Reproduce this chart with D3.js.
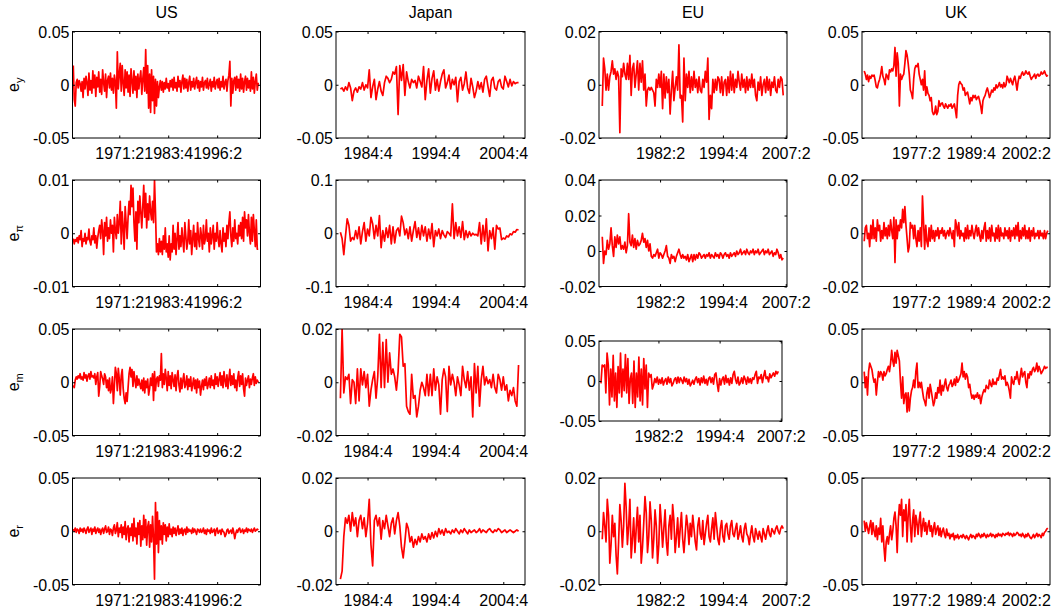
<!DOCTYPE html>
<html><head><meta charset="utf-8">
<script src="https://cdn.jsdelivr.net/npm/d3@7"></script>
<style>body{margin:0;background:#fff}svg text{font-family:"Liberation Sans",Arial,Helvetica,sans-serif;fill:#000}</style>
</head><body><svg id="c" width="1058" height="612"></svg>
<script>
// ---------- categories / ticks ----------
const countries = ["US","Japan","EU","UK"];
const shockNames = ["y","π","m","r"];
const xTickIndex = {US:[50,100,150], Japan:[20,60,100], EU:[50,100,150], UK:[50,100,150]};
const xTickLabels = {
  US:["1971:2","1983:4","1996:2"],
  Japan:["1984:4","1994:4","2004:4"],
  EU:["1982:2","1994:4","2007:2"],
  UK:["1977:2","1989:4","2002:2"]
};
const xDomains = {US:[2.2,194.3], Japan:[1.4,112.8], EU:[1.4,151], UK:[1,172]};
const yTicks = {
  US:[[-0.05,0,0.05],[-0.01,0,0.01],[-0.05,0,0.05],[-0.05,0,0.05]],
  Japan:[[-0.05,0,0.05],[-0.1,0,0.1],[-0.02,0,0.02],[-0.02,0,0.02]],
  EU:[[-0.02,0,0.02],[-0.02,0,0.02,0.04],[-0.05,0,0.05],[-0.02,0,0.02]],
  UK:[[-0.05,0,0.05],[-0.02,0,0.02],[-0.05,0,0.05],[-0.05,0,0.05]]
};
// ---------- series values (integers, multiplied by the unit given below) ----------
const US_ey = [18,-14,-20,2,5,-3,4,1,-6,3,-12,6,-4,8,2,-10,11,-5,4,-8,13,-3,9,-11,7,-2,12,-7,5,-9,14,2,-6,10,-12,4,8,-3,11,-5,6,-8,9,3,-22,31,-4,10,20,-6,18,2,-10,14,-3,12,-7,9,-11,15,4,-8,13,-5,8,-12,10,-4,6,13,-9,5,16,-6,33,-8,18,-22,10,-26,14,-15,8,-27,5,-20,3,-12,-2,4,-5,3,-7,2,-4,6,-3,1,-6,4,-2,5,-5,7,-3,2,-6,8,-2,4,-7,3,9,-4,6,-3,5,-6,2,8,-5,3,-2,6,-4,2,7,-3,4,-6,3,-2,7,-5,2,4,-3,6,-4,1,5,-6,3,-2,7,-4,2,5,-3,6,-5,3,-2,8,-4,2,5,-6,4,9,22,-20,6,-8,4,7,-5,8,-3,5,-6,10,-4,6,-7,3,8,-5,6,-3,4,-6,12,-4,7,-8,3,10,-5,2];
const US_epi = [-10,-20,-12,-15,-8,-18,-5,-12,5,-25,-10,-15,0,-20,-8,-12,8,-15,-22,-5,-12,10,-18,-5,-28,-8,5,15,-10,25,5,-40,20,-5,30,-15,10,-10,25,0,15,-35,30,5,-10,35,0,20,60,-20,40,10,-30,50,20,-10,30,60,35,90,50,85,20,-15,40,-30,60,20,70,40,10,50,90,30,75,10,55,25,70,40,25,60,20,100,40,-35,-20,-40,-10,-35,-15,-40,-5,-30,10,-35,-20,-45,-5,-50,-20,-35,15,-30,0,-40,-10,20,-30,-5,-25,10,-15,-35,20,-5,-30,-15,25,-20,5,-40,-10,15,-25,0,-30,20,-10,-25,10,-5,-30,15,-20,-10,25,-15,0,-35,10,-20,-5,15,-30,0,-15,20,-10,-25,5,-20,-35,10,-15,0,-25,15,-10,20,40,-5,-25,10,-15,25,-10,0,-20,15,-5,20,-10,30,-15,40,10,25,-5,35,0,-20,30,-15,35,5,-25,25,-30,-30];
const US_em = [-3,-5,2,5,3,6,4,8,3,5,2,9,4,7,1,6,8,3,10,5,6,4,8,-2,5,9,-13,-4,10,6,3,-2,8,5,-5,2,-8,4,-10,-6,5,-20,-3,14,8,-8,13,3,-12,6,12,-6,-15,-20,-10,-18,-5,8,14,5,12,-4,10,2,-5,6,-3,3,-2,-6,2,-8,4,-10,1,-5,3,-12,-6,4,-3,8,-17,10,-8,3,5,-4,6,2,27,-5,8,-2,12,4,-8,10,-3,6,-6,9,2,-4,7,-8,5,11,-3,-9,4,-6,2,8,-5,-2,6,-7,3,-4,5,-8,-2,4,-6,2,-10,3,-5,1,-12,-4,2,-7,3,-3,5,-6,-2,4,-5,6,-3,2,-6,8,-2,5,-4,3,9,-3,6,-5,10,2,-4,7,-6,3,12,-3,6,-2,8,-5,2,-8,4,10,-4,6,-2,8,-6,-13,4,-3,2,6,-5,3,-2,4,8,-3,5,-1,2,0];
const US_er = [2,0,3,-1,2,1,-2,3,0,2,-1,3,1,-2,2,4,-1,1,3,-3,2,0,4,-2,1,3,-1,2,-3,1,3,-2,2,5,-1,0,4,-3,2,1,-4,3,6,-2,1,8,-5,3,-1,6,-6,4,-3,9,-8,2,5,-10,3,-4,7,-9,12,-5,3,-12,8,-3,10,-14,5,-8,15,-6,11,-13,4,9,-15,6,-10,14,-6,-45,27,-12,18,-20,10,-8,5,-12,8,-3,6,-9,4,-5,7,-3,2,-5,4,-2,3,-4,1,5,-3,2,-2,3,-4,1,2,-3,4,-1,2,0,1,-2,3,-1,2,0,-3,2,1,-1,2,-1,0,3,-2,1,-3,2,0,1,-2,3,-1,0,2,-4,1,3,-2,0,1,-3,2,0,-1,-5,-3,1,2,-2,0,1,-2,3,-1,-7,-2,1,-1,2,3,-1,0,2,-2,1,0,3,-1,2,1,0,2,-1,1,3,0,1,2,1];
const JP_ey = [-4,-3,-6,-2,-5,2,-3,-15,-6,-3,-7,-2,-4,2,-5,0,-3,14,-12,-2,5,-14,-4,3,-6,-10,2,8,6,2,5,12,10,17,-28,18,4,19,-10,12,3,-3,5,2,4,-3,8,3,-2,17,-14,4,15,-8,6,13,-5,5,-6,3,10,14,-3,2,9,-4,5,0,7,-16,3,7,-5,1,12,-3,-8,6,-2,-12,-6,3,-4,2,-7,5,8,-2,-11,4,7,-3,-5,3,5,-2,-4,8,3,-2,5,-1,3,1,2,2];
const JP_epi = [2,-10,-40,-5,27,15,-15,-8,-12,5,-10,12,-20,3,20,-15,8,-5,30,18,-10,15,-5,33,-27,5,-15,10,-8,15,-20,12,-18,5,10,-5,32,20,-3,8,-10,12,-15,5,22,-8,10,-12,15,-5,12,-15,8,-10,18,-25,5,-5,8,-10,5,-3,-8,3,0,-5,55,-10,20,-5,12,-8,22,-12,5,-8,3,-5,0,-3,-2,-5,20,-20,15,-15,27,-33,5,-10,10,-30,15,8,10,-12,-9,-11,-5,-7,-1,-3,3,2,7,6];
const JP_em = [-60,200,-40,20,10,30,-80,10,0,-80,50,-70,50,-10,40,-20,30,-90,-30,10,40,-60,20,180,-20,150,-20,160,0,110,30,50,20,-30,40,180,170,60,70,-90,-110,-120,30,-60,-50,-130,-90,-30,0,-20,-50,30,-50,30,-50,50,-30,20,-10,-120,10,50,20,-110,60,-10,30,0,-50,20,-10,-50,60,10,-20,40,-30,20,-130,70,-40,60,-90,10,60,-10,20,-5,10,-20,30,-20,-40,30,10,-30,20,-30,-10,-70,-30,-50,-20,-70,-90,65];
const JP_er = [-180,-150,-20,50,30,60,0,70,20,50,-20,40,60,10,50,-20,30,120,-50,-130,40,60,20,50,-30,40,10,60,20,-20,30,50,-10,40,70,20,-60,-100,-40,30,10,-40,-20,-60,-30,-50,-20,-40,-10,-30,-20,-40,-10,-30,-5,-25,0,-20,10,-10,5,-15,10,-5,0,-10,5,-5,10,0,-10,5,-5,10,0,-10,5,-5,0,5,-5,0,10,-5,5,0,-5,5,10,0,-5,5,0,10,5,-5,0,5,-5,0,5,0,-5,0,5,0];
const EU_ey = [-80,100,60,-20,40,-20,30,50,90,40,60,20,50,30,-180,60,30,80,40,20,80,20,110,-40,60,80,-10,40,90,-20,80,10,90,-20,40,-80,-20,-10,-20,-10,-20,-30,-80,20,-10,40,-10,50,-90,40,-50,30,-30,20,-110,-20,50,-60,-10,30,-20,150,-50,-40,-140,100,-60,40,-10,50,-30,30,-20,50,-10,20,-30,30,-20,-30,20,-10,50,10,100,-130,-40,-90,20,-30,20,-20,30,20,-30,30,-40,10,20,-40,30,-30,50,-20,40,-30,20,-10,50,10,-20,40,-10,20,-30,30,-20,20,-10,40,-10,20,-40,-60,10,-20,30,-40,0,20,-30,30,-20,20,-40,10,-10,30,-20,-30,20,-10,30,20,-40];
const EU_epi = [80,-70,0,-20,60,10,40,130,30,-30,80,20,90,40,80,10,30,10,50,-10,30,210,50,30,90,20,70,10,60,30,40,60,100,50,70,20,60,0,40,-30,-40,-20,-30,-10,10,-40,-10,-20,-40,-20,0,30,-30,-40,-70,-20,-40,-30,-60,-30,-10,10,-20,-40,-20,-40,-30,-50,-20,-60,-40,-20,-60,-20,-50,-20,-40,-10,-20,-40,-30,-20,-40,-20,-30,-10,-40,-20,-30,-40,-10,-30,-20,-40,-10,-20,-40,-20,-10,-30,-20,-40,-10,-30,-20,-10,-30,0,-20,-10,10,-20,-10,0,-20,10,-10,-20,0,-10,10,-20,0,-10,10,-20,-10,0,10,-20,0,-10,10,-20,-10,0,-30,-10,-20,10,-10,-40,-20,-50,-40];
const EU_em = [-3,20,18,20,-15,35,20,-30,15,-20,32,-25,10,-33,18,-15,35,-20,15,-12,33,-15,28,-28,3,10,-28,25,-33,10,-20,30,-25,15,-30,28,-10,20,-33,10,5,8,-10,-5,3,-2,5,-4,2,-3,4,-5,0,3,-4,5,-2,3,-6,-3,2,4,-3,5,-2,4,1,-3,5,-1,3,-4,2,-6,-3,1,-4,2,5,-2,3,-5,4,-2,6,-3,2,-5,3,5,-2,4,-4,8,10,-3,-13,3,-5,2,5,-4,7,-2,3,-5,4,-3,8,12,2,-3,5,-5,-2,4,-3,6,2,-4,5,-2,3,-3,4,2,8,12,-3,5,3,8,-2,6,13,3,5,-1,9,4,7,10,6,12,9,12];
const EU_er = [-30,70,20,-40,120,60,-120,-50,60,-20,30,-90,-160,-40,100,40,-60,20,180,90,-50,20,120,-100,-30,50,-80,10,90,-40,60,-120,-60,30,130,70,-80,-20,110,40,-100,-30,80,20,-120,-50,100,30,-60,10,80,-40,-90,20,60,-30,100,40,-80,-20,50,-60,10,70,-30,-80,-10,60,20,-50,30,-20,60,10,-40,-70,20,50,-10,-30,40,-50,-10,30,60,-20,-40,10,50,-30,70,20,-30,-50,10,40,-20,-40,20,30,-10,-30,20,40,-10,-20,10,30,-30,-10,20,-20,-40,10,30,-10,-20,-50,-10,20,-20,-40,10,-10,-30,0,-20,-40,10,-10,-30,0,20,-10,-20,10,0,-10,10,20,0,-10,10,20,10];
const UK_ey = [13,10,5,9,3,8,6,9,8,9,4,-2,-3,2,5,10,17,8,5,0,10,8,5,14,12,15,13,18,35,8,30,20,-20,10,5,8,10,20,32,28,20,10,-5,-8,-13,5,15,18,17,20,10,5,0,5,-5,13,-10,-2,-8,-10,-15,-12,-25,-28,-27,-20,-28,-25,-15,-20,-18,-17,-20,-22,-18,-20,-22,-19,-20,-18,-22,-20,-18,-24,-31,-10,0,3,1,0,-5,-3,-10,-8,-7,-12,-18,-12,-15,-10,-12,-10,-14,-12,-11,-15,-20,-27,-15,-12,-10,-6,-3,-7,-12,-9,-5,-7,-3,-5,0,-3,-1,2,-2,0,-3,2,-2,0,8,5,2,6,3,0,5,8,2,-5,3,8,6,10,12,9,10,13,11,10,12,8,5,7,8,10,6,9,10,8,9,12,10,11,13,10,8,9];
const UK_epi = [-30,20,30,-20,0,-50,30,-20,50,-20,20,-30,50,10,30,-30,10,-20,40,-10,20,-20,30,-10,50,10,-20,60,-110,50,-20,30,10,50,20,90,40,100,30,-20,-70,-50,40,20,30,-20,30,-20,-50,10,-30,20,-50,140,40,-60,30,-30,-50,20,-30,30,-20,10,-30,10,-10,20,-20,10,0,20,-10,10,-20,0,10,-10,20,0,-20,10,-50,50,30,-10,40,-20,10,-10,0,-30,20,-20,30,-20,10,-10,30,0,-20,10,30,-10,20,-10,-30,10,-20,20,40,-30,10,-20,20,-30,30,-10,0,-30,20,-20,30,-30,20,-10,0,-20,20,-10,10,-20,20,-30,10,-10,20,-20,30,-10,40,-30,10,-20,20,-10,30,-20,10,-20,20,-30,10,-10,20,-20,0,-10,10,-20,10,-10,0,-20,10,-20,0,10];
const UK_em = [10,-5,5,-12,10,18,15,12,5,0,3,-12,0,10,5,10,8,2,10,6,8,12,15,10,18,30,20,15,28,18,30,25,20,0,-15,5,-20,-12,-10,-28,-10,-27,-15,-8,-5,2,-5,10,18,-5,0,-5,0,-8,-15,-18,-22,-10,-5,-15,-2,-8,-15,-22,-18,-10,-15,-5,-10,2,-12,-3,-8,-2,3,-5,-8,-3,-1,2,-4,-2,3,-3,5,0,2,5,8,18,5,10,3,8,5,-5,-2,-10,-15,-12,-16,-12,-14,-10,-15,-12,-20,-14,-10,-7,-9,-3,-5,-6,2,-2,-4,3,-2,0,-2,4,2,7,12,3,5,3,6,-3,0,-3,-8,-15,5,0,-2,5,3,10,3,-2,6,13,5,8,10,0,-5,8,4,10,7,12,14,10,12,18,10,15,12,8,10,12,15,13,14,14];
const UK_er = [10,0,8,3,-2,5,10,-3,8,0,-5,5,-8,3,-3,12,-10,5,-15,-28,-10,-5,-12,-3,5,-8,0,12,18,5,-20,10,25,15,30,-5,20,10,25,-10,15,30,5,-10,10,20,-5,15,8,-3,10,18,-5,5,12,0,8,-3,5,10,0,5,-5,3,8,-3,2,5,-4,3,-5,0,3,-3,-6,2,-4,-2,-7,-3,-5,-2,-8,-4,-6,-3,-7,-5,-4,-6,-3,-5,-7,-4,-6,-8,-5,-3,-6,-4,-5,-7,-3,-5,-2,-4,-6,-3,-5,-2,-4,-6,-3,-5,-4,-2,-5,-3,-4,-6,-3,-5,-2,-4,-3,-5,-2,-3,-4,-2,-3,-1,-4,-2,-3,-5,-2,-4,-3,-1,-2,-4,-3,-5,-2,-4,-6,-3,-5,-2,-4,-6,-7,-5,-3,-6,-4,-2,-5,-3,-4,-6,-2,-4,-1,0,2,3];

const seriesTable = {
  US:[{v:US_ey,u:1e-3,s:3},{v:US_epi,u:1e-4,s:3},{v:US_em,u:1e-3,s:3},{v:US_er,u:1e-3,s:3}],
  Japan:[{v:JP_ey,u:1e-3,s:4},{v:JP_epi,u:1e-3,s:4},{v:JP_em,u:1e-4,s:4},{v:JP_er,u:1e-4,s:4}],
  EU:[{v:EU_ey,u:1e-4,s:4},{v:EU_epi,u:1e-4,s:4},{v:EU_em,u:1e-3,s:3},{v:EU_er,u:1e-4,s:4}],
  UK:[{v:UK_ey,u:1e-3,s:3},{v:UK_epi,u:1e-4,s:3},{v:UK_em,u:1e-3,s:3},{v:UK_er,u:1e-3,s:3}]
};

// ---------- layout ----------
const svg = d3.select("#c");
const colLeft=[72.5,336,599,862], colW=[188,189,188,188];
const rowTop=[31.5,180,329,478], rowH=106.5;
function panelBox(c,r){
  if(c===2 && r===2) return {x:599,y:341,w:183,h:80};
  return {x:colLeft[c],y:rowTop[r],w:colW[c],h:rowH};
}
const fmt = v => v===0 ? "0" : String(v);
const TL = 2.5;

countries.forEach((name,c)=>{
  const b0 = panelBox(c,0);
  svg.append("text").attr("x",b0.x+b0.w/2).attr("y",18.3)
     .attr("text-anchor","middle").attr("font-size",16).text(name);
  shockNames.forEach((sh,r)=>{
    const b = panelBox(c,r);
    const ticks = yTicks[name][r];
    const x = d3.scaleLinear().domain(xDomains[name]).range([b.x,b.x+b.w]);
    const y = d3.scaleLinear().domain([ticks[0],ticks[ticks.length-1]]).range([b.y+b.h,b.y]);
    const g = svg.append("g");
    const cid = "clip"+c+"_"+r;
    svg.append("clipPath").attr("id",cid).append("rect")
       .attr("x",b.x).attr("y",b.y).attr("width",b.w).attr("height",b.h);
    const ser = seriesTable[name][r];
    const line = d3.line().x((d,i)=>x(ser.s+i)).y(d=>y(d*ser.u));
    g.append("path").datum(ser.v).attr("d",line).attr("clip-path","url(#"+cid+")")
     .attr("fill","none").attr("stroke","#ff0000").attr("stroke-width",1.7)
     .attr("stroke-linejoin","round");
    const ax = (gen,tx,ty)=>{
      const a = g.append("g").attr("transform",`translate(${tx},${ty})`).call(gen);
      a.select(".domain").remove();
      a.selectAll("line").attr("stroke","#000");
      return a;
    };
    const bot = ax(d3.axisBottom(x).tickValues(xTickIndex[name]).tickSize(-TL)
        .tickFormat((d,i)=>xTickLabels[name][i]), 0, b.y+b.h);
    bot.selectAll("text").attr("y",21).attr("dy",null).attr("font-size",16)
       .attr("font-family","Liberation Sans, Arial, sans-serif");
    ax(d3.axisTop(x).tickValues(xTickIndex[name]).tickSize(-TL).tickFormat(""),0,b.y);
    const lft = ax(d3.axisLeft(y).tickValues(ticks).tickSize(-TL).tickFormat(fmt), b.x, 0);
    lft.selectAll("text").attr("x",-3).attr("dy","0.35em").attr("font-size",16)
       .attr("font-family","Liberation Sans, Arial, sans-serif");
    ax(d3.axisRight(y).tickValues(ticks).tickSize(-TL).tickFormat(""), b.x+b.w, 0);
    g.append("rect").attr("x",b.x).attr("y",b.y).attr("width",b.w).attr("height",b.h)
     .attr("fill","none").attr("stroke","#000").attr("stroke-width",1);
    if(c===0){
      const cy = b.y+b.h/2;
      const t = svg.append("text").attr("transform",`translate(18.5,${cy}) rotate(-90)`)
        .attr("text-anchor","middle").attr("font-size",16);
      t.append("tspan").text("e");
      t.append("tspan").attr("dy",4).attr("font-size",11).text(sh);
    }
  });
});
</script></body></html>
